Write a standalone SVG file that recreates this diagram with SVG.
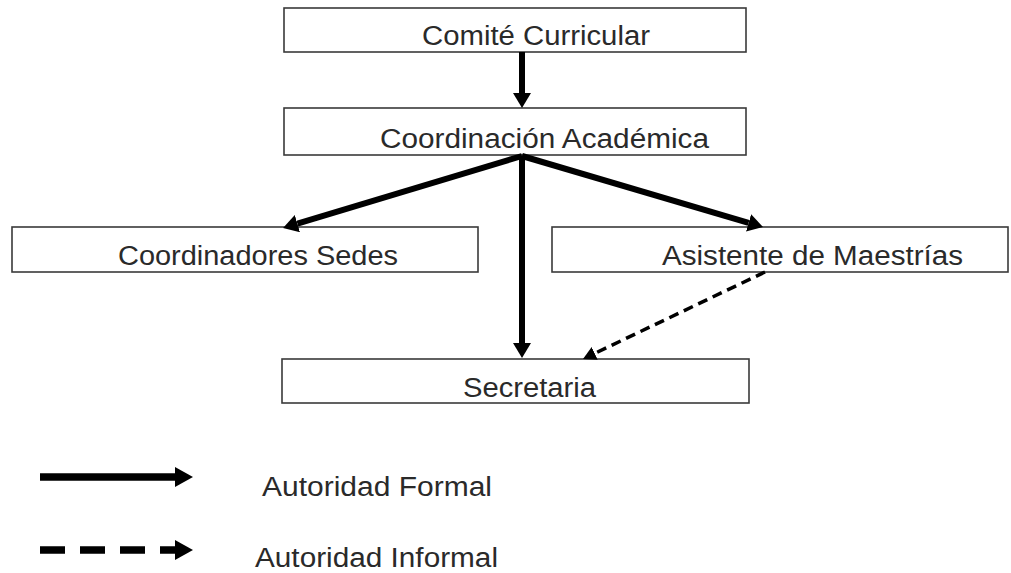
<svg xmlns="http://www.w3.org/2000/svg" width="1011" height="573" viewBox="0 0 1011 573">
  <style>
    .box { fill: #ffffff; stroke: #3a3a3a; stroke-width: 1.6; }
    .lbl { font-family: "Liberation Sans", Arial, sans-serif; font-size: 27px; fill: #2a2a2a; }
    .formal { stroke: #000; stroke-width: 6; fill: none; }
    .informal { stroke: #000; stroke-width: 3.5; fill: none; stroke-dasharray: 10 6; }
    .legend-formal { stroke: #000; stroke-width: 7.5; fill: none; }
    .legend-informal { stroke: #000; stroke-width: 7.5; fill: none; stroke-dasharray: 25 15; }
  </style>
  <defs>
    <marker id="head" markerUnits="userSpaceOnUse" markerWidth="16" markerHeight="20" refX="0" refY="9" orient="auto">
      <path d="M0,0 L15,9 L0,18 z" fill="#000"/>
    </marker>
    <marker id="head-small" markerUnits="userSpaceOnUse" markerWidth="14" markerHeight="16" refX="0" refY="7" orient="auto">
      <path d="M0,0 L13,7 L0,14 z" fill="#000"/>
    </marker>
    <marker id="head-legend" markerUnits="userSpaceOnUse" markerWidth="19" markerHeight="22" refX="0" refY="10" orient="auto">
      <path d="M0,0 L18,10 L0,20 z" fill="#000"/>
    </marker>
  </defs>

  <g id="comite-curricular">
    <rect class="box" x="284" y="8" width="462" height="44"/>
    <text class="lbl" x="422" y="45" textLength="228" lengthAdjust="spacingAndGlyphs">Comité Curricular</text>
  </g>

  <g id="coordinacion-academica">
    <rect class="box" x="284" y="108" width="462" height="47"/>
    <text class="lbl" x="380" y="148" textLength="329" lengthAdjust="spacingAndGlyphs">Coordinación Académica</text>
  </g>

  <g id="coordinadores-sedes">
    <rect class="box" x="12" y="227" width="466" height="45"/>
    <text class="lbl" x="118" y="265" textLength="280" lengthAdjust="spacingAndGlyphs">Coordinadores Sedes</text>
  </g>

  <g id="asistente-maestrias">
    <rect class="box" x="552" y="227" width="456" height="45"/>
    <text class="lbl" x="662" y="265" textLength="301" lengthAdjust="spacingAndGlyphs">Asistente de Maestrías</text>
  </g>

  <g id="secretaria">
    <rect class="box" x="282" y="359" width="467" height="44"/>
    <text class="lbl" x="463" y="397" textLength="133" lengthAdjust="spacingAndGlyphs">Secretaria</text>
  </g>

  <g id="connectors">
    <line class="formal" x1="522" y1="52" x2="522" y2="93" marker-end="url(#head)"/>
    <line class="formal" x1="522" y1="156" x2="297.4" y2="223.7" marker-end="url(#head)"/>
    <line class="formal" x1="522" y1="156" x2="748.6" y2="222.8" marker-end="url(#head)"/>
    <line class="formal" x1="522" y1="156" x2="522" y2="343" marker-end="url(#head)"/>
    <line class="informal" x1="765" y1="272" x2="594.7" y2="353.4" marker-end="url(#head-small)"/>
  </g>

  <g id="legend">
    <line class="legend-formal" x1="40" y1="477" x2="175" y2="477" marker-end="url(#head-legend)"/>
    <text class="lbl" x="262" y="496" font-size="28" textLength="230" lengthAdjust="spacingAndGlyphs">Autoridad Formal</text>
    <line class="legend-informal" x1="40" y1="550" x2="175" y2="550" marker-end="url(#head-legend)"/>
    <text class="lbl" x="255" y="567" font-size="29" textLength="243" lengthAdjust="spacingAndGlyphs">Autoridad Informal</text>
  </g>
</svg>
